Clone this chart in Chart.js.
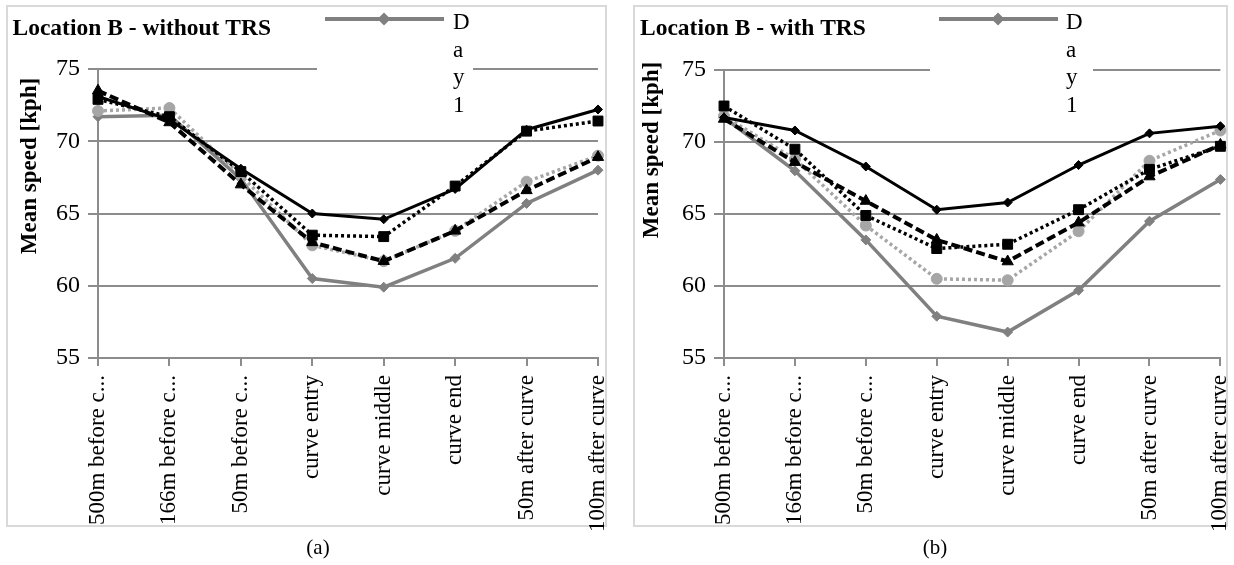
<!DOCTYPE html>
<html>
<head>
<meta charset="utf-8">
<script src="https://cdn.jsdelivr.net/npm/chart.js@4.4.0/dist/chart.umd.min.js"></script>
<style>
  body { margin: 0; width: 1234px; height: 565px; overflow: hidden; position: relative; background: #fff; }
  .frame { position: absolute; border: 2px solid #d9d9d9; box-sizing: border-box; }
  canvas { position: absolute; top: 0; }
  .cap { position: absolute; top: 535px; width: 60px; text-align: center; font: 21px "Liberation Serif", serif; color: #000; }
</style>
</head>
<body>
<div class="frame" style="left:6px; top:5px; width:601px; height:522px"></div>
<div class="frame" style="left:633px; top:5px; width:595px; height:522px"></div>
<canvas id="chartA" width="640" height="545" style="left:0"></canvas>
<canvas id="chartB" width="640" height="545" style="left:617px"></canvas>
<div class="cap" style="left:288px">(a)</div>
<div class="cap" style="left:905px">(b)</div>
<script>
const categories = ["500m before c...", "166m before c...", "50m before c...", "curve entry",
    "curve middle", "curve end", "50m after curve", "100m after curve"]
const yTicks = [55, 60, 65, 70, 75]
const seriesNames = ["Day 1", "Day 2", "Day 3", "Day 4", "Day 5"]

// Location B - without TRS
const day1A = [71.7, 71.8, 67.4, 60.5, 59.9, 61.9, 65.7, 68.0]
const day2A = [72.1, 72.3, 67.6, 62.8, 61.7, 63.8, 67.2, 69.0]
const day3A = [72.9, 71.7, 67.9, 63.5, 63.4, 66.9, 70.7, 71.4]
const day4A = [73.5, 71.3, 67.0, 63.0, 61.7, 63.8, 66.6, 68.9]
const day5A = [73.1, 71.5, 68.1, 65.0, 64.6, 66.7, 70.8, 72.2]

// Location B - with TRS
const day1B = [71.7, 68.0, 63.2, 57.9, 56.8, 59.7, 64.5, 67.4]
const day2B = [71.8, 68.8, 64.2, 60.5, 60.4, 63.8, 68.7, 70.8]
const day3B = [72.5, 69.5, 64.9, 62.6, 62.9, 65.3, 68.1, 69.7]
const day4B = [71.6, 68.6, 65.9, 63.2, 61.7, 64.4, 67.6, 69.8]
const day5B = [71.7, 70.8, 68.3, 65.3, 65.8, 68.4, 70.6, 71.1]

const FONT = '"Liberation Serif", "Times New Roman", serif'
const GRID = '#8c8c8c'

const seriesStyles = [
    { borderColor: '#808080', pointBackgroundColor: '#808080', borderWidth: 3.5, pointStyle: 'rectRot', pointRadius: 5, order: 4 },
    { borderColor: '#a6a6a6', pointBackgroundColor: '#a6a6a6', borderWidth: 3.5, borderDash: [3, 3], pointStyle: 'circle', pointRadius: 5.5, order: 3 },
    { borderColor: '#000', pointBackgroundColor: '#000', borderWidth: 3.5, borderDash: [3, 3], pointStyle: 'rect', pointRadius: 7, order: 2 },
    { borderColor: '#000', pointBackgroundColor: '#000', borderWidth: 4, borderDash: [9, 4], pointStyle: 'triangle', pointRadius: 6.5, order: 0 },
    { borderColor: '#000', pointBackgroundColor: '#000', borderWidth: 3, pointStyle: 'rectRot', pointRadius: 4.5, order: 1 },
]

// title, axis title and the squeezed excel legend
const decorations = {
    id: 'decorations',
    afterDraw(chart, args, opts) {
        const ctx = chart.ctx
        ctx.save()
        ctx.fillStyle = '#000'
        ctx.font = 'bold 23.5px ' + FONT
        ctx.textAlign = 'left'
        ctx.textBaseline = 'alphabetic'
        ctx.fillText(opts.title, opts.titleX, 35)

        ctx.save()
        ctx.translate(opts.yTitleX, opts.yTitleY)
        ctx.rotate(-Math.PI / 2)
        ctx.textAlign = 'center'
        ctx.textBaseline = 'middle'
        ctx.font = 'bold 23px ' + FONT
        ctx.fillText('Mean speed [kph]', 0, 0)
        ctx.restore()

        // legend box
        const lg = opts.legend
        ctx.fillStyle = '#fff'
        ctx.fillRect(lg.x0, 8, lg.x1 - lg.x0, 115)
        const st = seriesStyles[0]
        ctx.strokeStyle = st.borderColor
        ctx.lineWidth = 4
        ctx.beginPath()
        ctx.moveTo(lg.lineX, 19)
        ctx.lineTo(lg.lineX + 119, 19)
        ctx.stroke()
        const cx = lg.lineX + 59, r = 6.5
        ctx.fillStyle = st.borderColor
        ctx.beginPath()
        ctx.moveTo(cx - r, 19); ctx.lineTo(cx, 19 - r); ctx.lineTo(cx + r, 19); ctx.lineTo(cx, 19 + r)
        ctx.closePath()
        ctx.fill()

        ctx.fillStyle = '#000'
        ctx.font = '23px ' + FONT
        const letters = seriesNames[0].split('').filter(c => c !== ' ')
        letters.forEach((c, i) => ctx.fillText(c, lg.textX, 29 + i * 27.7))
        ctx.restore()
    }
}

function makeChart(id, values, cfg){
    const canvasH = 545
    return new Chart(document.getElementById(id), {
        type: 'line',
        data: {
            labels: categories,
            datasets: values.map((v, i) => ({
                label: seriesNames[i],
                data: v,
                fill: false,
                tension: 0,
                pointBorderColor: seriesStyles[i].borderColor,
                pointBorderWidth: 1,
                borderCapStyle: 'butt',
                ...seriesStyles[i],
            })),
        },
        options: {
            responsive: false,
            animation: false,
            layout: { padding: { left: 0, top: cfg.top, right: 640 - cfg.right, bottom: 0 } },
            plugins: {
                legend: { display: false },
                tooltip: { enabled: false },
                decorations: cfg.deco,
            },
            scales: {
                x: {
                    type: 'category',
                    offset: false,
                    grid: { drawOnChartArea: false, drawTicks: true, tickLength: 8, color: GRID, lineWidth: 2 },
                    border: { display: true, color: GRID, width: 2 },
                    ticks: { autoSkip: false, maxRotation: 90, minRotation: 90, padding: 9, color: '#000',
                        font: { family: FONT, size: 23 } },
                    afterFit: (scale) => { scale.height = canvasH - cfg.bottom },
                },
                y: {
                    min: yTicks[0],
                    max: yTicks[yTicks.length - 1],
                    grid: { color: GRID, lineWidth: 2, tickLength: 10 },
                    border: { display: true, color: GRID, width: 2 },
                    ticks: { stepSize: yTicks[1] - yTicks[0], padding: 8, color: '#000',
                        font: { family: FONT, size: 24 } },
                    afterFit: (scale) => { scale.width = cfg.left },
                },
            },
        },
        plugins: [decorations],
    })
}

makeChart('chartA', [day1A, day2A, day3A, day4A, day5A], {
    left: 98, right: 598, top: 69, bottom: 358,
    deco: { title: 'Location B - without TRS', titleX: 12.5, yTitleX: 30, yTitleY: 166,
        legend: { x0: 317, x1: 473, lineX: 325, textX: 453 } },
})

makeChart('chartB', [day1B, day2B, day3B, day4B, day5B], {
    left: 107, right: 607.5, top: 70, bottom: 358,
    deco: { title: 'Location B - with TRS', titleX: 23, yTitleX: 35, yTitleY: 150,
        legend: { x0: 313, x1: 476, lineX: 322, textX: 449 } },
})
</script>
</body>
</html>
